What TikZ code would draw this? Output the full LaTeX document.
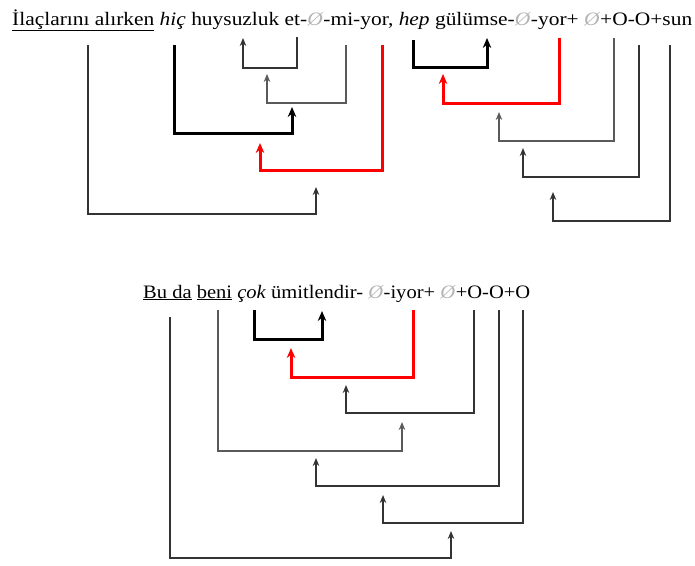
\documentclass[tikz,border=0pt]{standalone}
\usepackage{fontspec}
\setmainfont{Liberation Serif}
\usepackage{graphicx}
\usetikzlibrary{arrows.meta}
\definecolor{zgray}{HTML}{B4B4B4}
\definecolor{dgray}{HTML}{333333}
\definecolor{mgray}{HTML}{5A5A5A}
\newcommand{\zr}{\textcolor{zgray}{\textit{Ø}}}
\begin{document}
\begin{tikzpicture}[x=1pt,y=-1pt,
  txt/.style={inner sep=0pt,anchor=base west,font=\fontsize{19}{22}\selectfont},
  thinarr/.style={draw=dgray,line width=1.5pt,-{Stealth[length=8pt,width=6.5pt]}},
  medarr/.style={draw=mgray,line width=2pt,-{Stealth[length=8pt,width=6.5pt]}},
  blkarr/.style={draw=black,line width=3pt,-{Stealth[length=10pt,width=8.5pt]}},
  redarr/.style={draw=red,line width=3pt,-{Stealth[length=10pt,width=8.5pt]}}]
\useasboundingbox (0,0) rectangle (695,565);
% texts
\node[txt] (line1) at (12,25) {\resizebox{680pt}{\height}{\underline{İlaçlarını alırken} \textit{hiç} huysuzluk et-\zr-mi-yor, \textit{hep} gülümse-\zr-yor+ \zr+O-O+sun}};
\node[txt] (line2) at (143,298) {\resizebox{387pt}{\height}{\underline{Bu da} \underline{beni} \textit{çok} ümitlendir- \zr-iyor+ \zr+O-O+O}};
% top coordinates
\coordinate (a1s) at (88,45);  \coordinate (a1b) at (316,214); \coordinate (a1t) at (316,187);
\coordinate (a2s) at (174,45); \coordinate (a2b) at (292,133); \coordinate (a2t) at (292,107);
\coordinate (a3s) at (346,45); \coordinate (a3b) at (267,103); \coordinate (a3t) at (267,74);
\coordinate (a4s) at (297,37); \coordinate (a4b) at (243,68);  \coordinate (a4t) at (243,38);
\coordinate (a5s) at (382,45); \coordinate (a5b) at (260,170); \coordinate (a5t) at (260,143);
\coordinate (a6s) at (413,40); \coordinate (a6b) at (487,67);  \coordinate (a6t) at (487,38);
\coordinate (a7s) at (559,38); \coordinate (a7b) at (443,103); \coordinate (a7t) at (443,74);
\coordinate (a8s) at (614,38); \coordinate (a8b) at (499,141); \coordinate (a8t) at (499,112);
\coordinate (a9s) at (639,45); \coordinate (a9b) at (523,177); \coordinate (a9t) at (523,148);
\coordinate (a10s) at (670,45); \coordinate (a10b) at (553,221); \coordinate (a10t) at (553,192);
% bottom coordinates
\coordinate (b1s) at (254,310); \coordinate (b1b) at (322,339); \coordinate (b1t) at (322,311);
\coordinate (b2s) at (413,310); \coordinate (b2b) at (291,377); \coordinate (b2t) at (291,348);
\coordinate (b3s) at (474,310); \coordinate (b3b) at (346,413); \coordinate (b3t) at (346,385);
\coordinate (b4s) at (218,310); \coordinate (b4b) at (402,451); \coordinate (b4t) at (402,422);
\coordinate (b5s) at (499,310); \coordinate (b5b) at (316,486); \coordinate (b5t) at (316,458);
\coordinate (b6s) at (523,310); \coordinate (b6b) at (383,523); \coordinate (b6t) at (383,495);
\coordinate (b7s) at (170,317); \coordinate (b7b) at (451,558); \coordinate (b7t) at (451,531);
% top connectors
\draw[thinarr] (a1s) |- (a1b) -- (a1t);
\draw[blkarr] (a2s) |- (a2b) -- (a2t);
\draw[medarr] (a3s) |- (a3b) -- (a3t);
\draw[thinarr] (a4s) |- (a4b) -- (a4t);
\draw[redarr] (a5s) |- (a5b) -- (a5t);
\draw[blkarr] (a6s) |- (a6b) -- (a6t);
\draw[redarr] (a7s) |- (a7b) -- (a7t);
\draw[medarr] (a8s) |- (a8b) -- (a8t);
\draw[thinarr] (a9s) |- (a9b) -- (a9t);
\draw[thinarr] (a10s) |- (a10b) -- (a10t);
% bottom connectors
\draw[blkarr] (b1s) |- (b1b) -- (b1t);
\draw[redarr] (b2s) |- (b2b) -- (b2t);
\draw[thinarr] (b3s) |- (b3b) -- (b3t);
\draw[medarr] (b4s) |- (b4b) -- (b4t);
\draw[thinarr] (b5s) |- (b5b) -- (b5t);
\draw[thinarr] (b6s) |- (b6b) -- (b6t);
\draw[thinarr] (b7s) |- (b7b) -- (b7t);
\end{tikzpicture}
\end{document}
